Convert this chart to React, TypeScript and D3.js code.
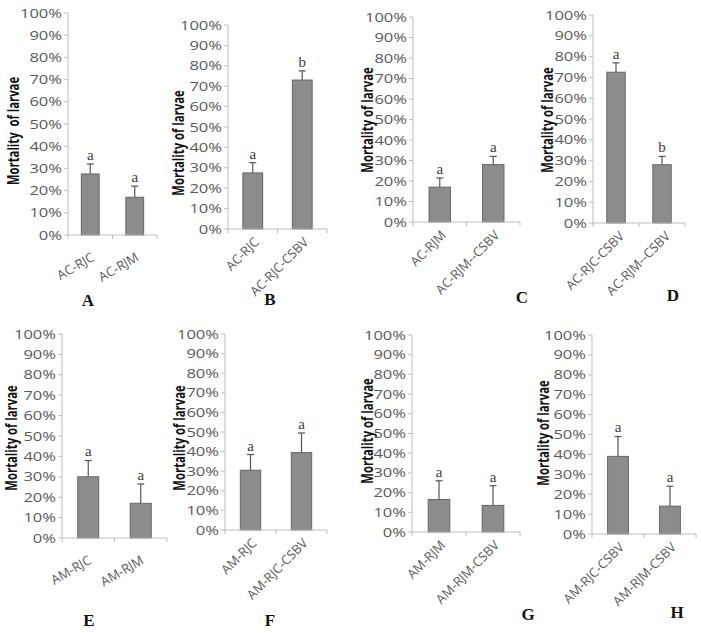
import React from 'react';
import * as d3 from 'd3';

// ---------- data ----------
const panelIds = ['A', 'B', 'C', 'D', 'E', 'F', 'G', 'H'];
const categories = [
  ['AC-RJC', 'AC-RJM'],
  ['AC-RJC', 'AC-RJC-CSBV'],
  ['AC-RJM', 'AC-RJM--CSBV'],
  ['AC-RJC-CSBV', 'AC-RJM--CSBV'],
  ['AM-RJC', 'AM-RJM'],
  ['AM-RJC', 'AM-RJC-CSBV'],
  ['AM-RJM', 'AM-RJM-CSBV'],
  ['AM-RJC-CSBV', 'AM-RJM-CSBV'],
];
const means = [
  [27.5, 17],
  [27.5, 73],
  [17, 28],
  [72.5, 28],
  [30, 17],
  [30.5, 39.5],
  [16.5, 13.5],
  [39, 14],
];
const errors = [
  [4.5, 5],
  [5, 4.5],
  [4.5, 4],
  [4.5, 4],
  [8, 9.5],
  [8, 10],
  [9.5, 10],
  [10, 10],
];
const sigLetters = [
  ['a', 'a'],
  ['a', 'b'],
  ['a', 'a'],
  ['a', 'b'],
  ['a', 'a'],
  ['a', 'a'],
  ['a', 'a'],
  ['a', 'a'],
];
const yTitles = [
  'Mortality  of larvae',
  'Mortality of larvae',
  'Mortality of larvae',
  'Mortality of larvae',
  'Mortality of larvae',
  'Mortality of larvae',
  'Mortality of larvae',
  'Mortality of larvae',
];
const yTicks = [0, 10, 20, 30, 40, 50, 60, 70, 80, 90, 100];

// ---------- layout (pixels) ----------
const layout = [
  { x0: 68, x1: 157, yTop: 13, yBot: 235, tx: 13, ty: 131, lx: 88, ly: 306, rot: -30, dx: 5, dy: 25 },
  { x0: 228, x1: 327, yTop: 25, yBot: 229, tx: 178, ty: 143, lx: 270, ly: 305, rot: -45, dx: 7, dy: 14 },
  { x0: 413, x1: 520, yTop: 17, yBot: 222, tx: 367, ty: 120, lx: 522, ly: 303, rot: -45, dx: 7, dy: 14 },
  { x0: 593, x1: 685, yTop: 15, yBot: 223, tx: 547, ty: 120, lx: 673, ly: 301, rot: -45, dx: 9, dy: 14 },
  { x0: 62, x1: 167, yTop: 334, yBot: 538, tx: 11, ty: 438, lx: 89, ly: 626, rot: -30, dx: 4, dy: 25 },
  { x0: 225, x1: 327, yTop: 334, yBot: 530, tx: 179, ty: 438, lx: 270, ly: 626, rot: -45, dx: 7, dy: 14 },
  { x0: 412, x1: 520, yTop: 335, yBot: 532, tx: 367, ty: 431, lx: 528, ly: 620, rot: -45, dx: 7, dy: 14 },
  { x0: 592, x1: 696, yTop: 335, yBot: 534, tx: 543, ty: 433, lx: 677, ly: 618, rot: -45, dx: 7, dy: 14 },
];

const STRETCH = 1.38;
const AXIS = '#bdbdbd';
const TEXT = '#595959';
const SANS = '"Open Sans", "Noto Sans", sans-serif';
const SERIF = '"Liberation Serif", "DejaVu Serif", serif';

function Panel({ i }: { i: number }) {
  const L = layout[i];
  const cats = categories[i];
  const x = d3.scaleBand<string>().domain(cats).range([L.x0, L.x1]).paddingInner(0.6).paddingOuter(0.3);
  const y = d3.scaleLinear().domain([0, 100]).range([L.yBot, L.yTop]);
  const step = (L.x1 - L.x0) / cats.length;
  const xTicks = d3.range(cats.length + 1).map((k) => L.x0 + k * step);
  return (
    <g>
      {/* y axis */}
      <line x1={L.x0} x2={L.x0} y1={y(100)} y2={y(0)} stroke={AXIS} strokeWidth={1} />
      {yTicks.map((t) => (
        <g key={t}>
          <line x1={L.x0 - 4} x2={L.x0} y1={y(t)} y2={y(t)} stroke={AXIS} strokeWidth={1} />
          <text
            transform={`translate(${L.x0 - 6},${y(t)}) scale(${STRETCH},1)`}
            textAnchor="end"
            dominantBaseline="central"
            fontFamily={SANS}
            fontSize={12}
            fill={TEXT}
          >
            {t + '%'}
          </text>
        </g>
      ))}
      {/* bars */}
      {cats.map((c, k) => {
        const bx = x(c)!;
        const bw = x.bandwidth();
        const cx = bx + bw / 2;
        const top = y(means[i][k]);
        const eTop = y(means[i][k] + errors[i][k]);
        return (
          <g key={c}>
            <line x1={cx} x2={cx} y1={top} y2={eTop} stroke="#555" strokeWidth={1.2} />
            <line x1={cx - 3.5} x2={cx + 3.5} y1={eTop} y2={eTop} stroke="#555" strokeWidth={1.2} />
            <rect x={bx} y={top} width={bw} height={y(0) - top} fill="#8c8c8c" stroke="#666" strokeWidth={1} />
            <text x={cx} y={eTop - 4} textAnchor="middle" fontFamily={SERIF} fontSize={15} fill="#404040">
              {sigLetters[i][k]}
            </text>
            <g transform={`translate(${cx + L.dx},${L.yBot + L.dy})`}>
              <text
                transform={`rotate(${L.rot})`}
                textAnchor="end"
                fontFamily={SANS}
                fontSize={13}
                fill={TEXT}
              >
                {c}
              </text>
            </g>
          </g>
        );
      })}
      {/* x axis */}
      <line x1={L.x0} x2={L.x1} y1={L.yBot} y2={L.yBot} stroke={AXIS} strokeWidth={1} />
      {xTicks.map((t, k) => (
        <line key={k} x1={t} x2={t} y1={L.yBot} y2={L.yBot + 4} stroke={AXIS} strokeWidth={1} />
      ))}
      {/* y title */}
      <text
        transform={`translate(${L.tx},${L.ty}) scale(${STRETCH},1) rotate(-90)`}
        textAnchor="middle"
        dominantBaseline="central"
        fontFamily={SANS}
        fontWeight="bold"
        fontSize={11.3}
        fill="#111"
        style={{ whiteSpace: 'pre' }}
      >
        {yTitles[i]}
      </text>
      {/* panel letter */}
      <text x={L.lx} y={L.ly} textAnchor="middle" fontFamily={SERIF} fontWeight="bold" fontSize={17} fill="#111">
        {panelIds[i]}
      </text>
    </g>
  );
}

export default function App() {
  return (
    <svg
      width={701}
      height={633}
      viewBox="0 0 701 633"
      style={{ position: 'absolute', left: 0, top: 0, background: '#fff' }}
    >
      <rect width={701} height={633} fill="#fff" />
      {panelIds.map((_, i) => (
        <Panel key={i} i={i} />
      ))}
    </svg>
  );
}
